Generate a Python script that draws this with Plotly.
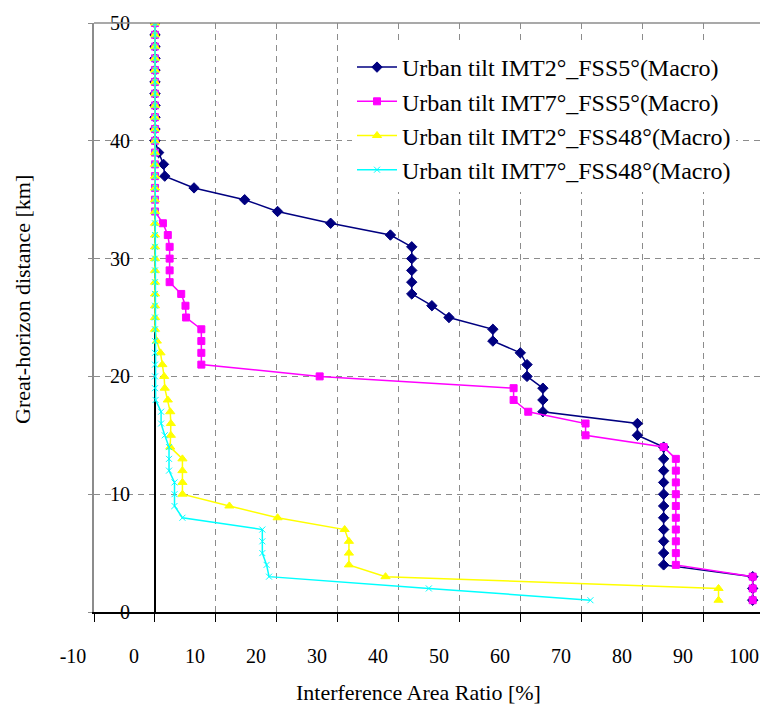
import plotly.graph_objects as go

# ---- data -------------------------------------------------------------
distance_km = [50, 49, 48, 47, 46, 45, 44, 43, 42, 41, 40, 39, 38, 37, 36, 35, 34, 33, 32, 31,
               30, 29, 28, 27, 26, 25, 24, 23, 22, 21, 20, 19, 18, 17, 16, 15, 14, 13, 12, 11,
               10, 9, 8, 7, 6, 5, 4, 3, 2, 1]

imt2_fss5 = [0, 0, 0, 0, 0, 0, 0, 0, 0, 0, 0, 0.6, 1.4, 1.6, 6.4, 14.7, 20.1, 28.8, 38.6, 42.1,
             42.1, 42.1, 42.1, 42.1, 45.4, 48.2, 55.4, 55.4, 59.9, 61.0, 61.0, 63.6, 63.6, 63.6, 79.1, 79.1, 83.4, 83.4, 83.4, 83.4,
             83.4, 83.4, 83.4, 83.4, 83.4, 83.4, 83.4, 98.0, 98.0, 98.0]

imt7_fss5 = [0, 0, 0, 0, 0, 0, 0, 0, 0, 0, 0, 0, 0, 0, 0, 0, 0, 1.3, 2.1, 2.4,
             2.4, 2.4, 2.4, 4.3, 5.0, 5.1, 7.6, 7.6, 7.6, 7.6, 27.0, 58.8, 58.8, 61.2, 70.6, 70.6, 83.4, 85.4, 85.4, 85.4,
             85.4, 85.4, 85.4, 85.4, 85.4, 85.4, 85.4, 98.0, 98.0, 98.0]

imt2_fss48 = [0, 0, 0, 0, 0, 0, 0, 0, 0, 0, 0, 0, 0, 0, 0, 0, 0, 0, 0, 0,
              0, 0, 0, 0, 0, 0, 0, 0.3, 0.9, 1.2, 1.5, 1.6, 2.1, 2.5, 2.6, 2.6, 2.5, 4.5, 4.5, 4.5,
              4.5, 12.2, 20.1, 31.1, 31.8, 31.8, 31.8, 37.8, 92.4, 92.4]

imt7_fss48 = [0, 0, 0, 0, 0, 0, 0, 0, 0, 0, 0, 0, 0, 0, 0, 0, 0, 0, 0, 0,
              0, 0, 0, 0, 0, 0, 0, 0, 0, 0, 0, 0, 0.1, 1.0, 1.0, 1.6, 2.3, 2.3, 2.3, 3.2,
              3.2, 3.2, 4.5, 17.6, 17.6, 17.6, 18.3, 18.7, 44.9, 71.4]

series_names = ["Urban tilt IMT2°_FSS5°(Macro)", "Urban tilt IMT7°_FSS5°(Macro)",
                "Urban tilt IMT2°_FSS48°(Macro)", "Urban tilt IMT7°_FSS48°(Macro)"]
x_tick_labels = ["-10", "0", "10", "20", "30", "40", "50", "60", "70", "80", "90", "100"]
x_tick_values = [-10, 0, 10, 20, 30, 40, 50, 60, 70, 80, 90, 100]
y_tick_values = [0, 10, 20, 30, 40, 50]
x_title = "Interference Area Ratio [%]"
y_title = "Great-horizon distance [km]"

# ---- styles -----------------------------------------------------------
FONT = "Liberation Serif"
styles = [
    dict(color="#000080", symbol="diamond", size=8),
    dict(color="#FF00FF", symbol="square", size=7),
    dict(color="#FFFF00", symbol="triangle-up", size=8),
    dict(color="#00FFFF", symbol="x-thin-open", size=6),
]
all_series = [imt2_fss5, imt7_fss5, imt2_fss48, imt7_fss48]

W, H = 760, 708
ML, MR, MT, MB = 40, 0, 23, 96
PW = W - ML - MR
PH = H - MT - MB
plot_left_px = 94

fig = go.Figure()
for name, vals, st in zip(series_names, all_series, styles):
    fig.add_trace(go.Scatter(
        x=vals, y=distance_km, name=name, mode="lines+markers",
        line=dict(color=st["color"], width=1.5),
        marker=dict(color=st["color"], symbol=st["symbol"], size=st["size"],
                    line=dict(color=st["color"], width=1)),
        legendgroup=name,
    ))

# helper trace that carries the label-only axes
fig.add_trace(go.Scatter(x=[None], y=[None], xaxis="x2", yaxis="y2",
                         showlegend=False, hoverinfo="skip", mode="markers"))

x_range = [-10, 99.2]
px_per_unit = (W - plot_left_px) / (x_range[1] - x_range[0])
zero_px = plot_left_px + 10 * px_per_unit
label_zero_px = zero_px - 21
x2_range = [(ML - label_zero_px) / px_per_unit, (W - label_zero_px) / px_per_unit]

grid = dict(showgrid=True, gridcolor="#8c8c8c", gridwidth=1.3, griddash="6px,5px")

fig.update_layout(
    width=W, height=H,
    margin=dict(l=ML, r=MR, t=MT, b=MB),
    paper_bgcolor="white", plot_bgcolor="rgba(0,0,0,0)",
    font=dict(family=FONT, size=20, color="black"),
    showlegend=True,
    legend=dict(x=(352 - ML) / PW, y=1 - (45 - MT) / PH, xanchor="left", yanchor="top",
                bgcolor="white", borderwidth=0, font=dict(family=FONT, size=24, color="black"),
                itemwidth=40, tracegroupgap=2, traceorder="normal"),
    xaxis=dict(domain=[(plot_left_px - ML) / PW, 1], range=x_range, dtick=10, tick0=0,
               showticklabels=False, ticks="outside", ticklen=8, tickcolor="black", tickwidth=1.3,
               showline=True, linecolor="black", linewidth=1.5,
               zeroline=True, zerolinecolor="black", zerolinewidth=1.5, **grid),
    yaxis=dict(domain=[0, 1], range=[0, 50], tickvals=y_tick_values,
               showticklabels=False, ticks="outside", ticklen=4, tickcolor="#8c8c8c",
               showline=True, linecolor="#8c8c8c", linewidth=1.5, zeroline=False, **grid),
    xaxis2=dict(domain=[0, 1], anchor="free", position=0, range=x2_range,
                tickvals=x_tick_values, ticktext=x_tick_labels,
                ticks="outside", ticklen=26, tickcolor="rgba(0,0,0,0)",
                showline=False, showgrid=False, zeroline=False,
                tickfont=dict(family=FONT, size=20, color="black")),
    yaxis2=dict(domain=[0, 1], anchor="free", position=(136 - ML) / PW, range=[0, 50],
                tickvals=y_tick_values, ticks="outside", ticklen=2, tickcolor="rgba(0,0,0,0)",
                showline=False, showgrid=False, zeroline=False,
                tickfont=dict(family=FONT, size=20, color="black")),
    shapes=[dict(type="line", xref="paper", yref="paper",
                 x0=(plot_left_px - ML) / PW, x1=1, y0=1, y1=1,
                 line=dict(color="#8c8c8c", width=1.5))],
    annotations=[
        dict(text=x_title, xref="paper", yref="paper", x=(418 - ML) / PW, y=-(692 - (H - MB)) / PH,
             showarrow=False, xanchor="center", yanchor="middle",
             font=dict(family=FONT, size=22, color="black")),
        dict(text=y_title, xref="paper", yref="paper", x=(22 - ML) / PW, y=1 - (300 - MT) / PH,
             showarrow=False, xanchor="center", yanchor="middle", textangle=-90,
             font=dict(family=FONT, size=22, color="black")),
    ],
)

fig.write_html("out.html")
